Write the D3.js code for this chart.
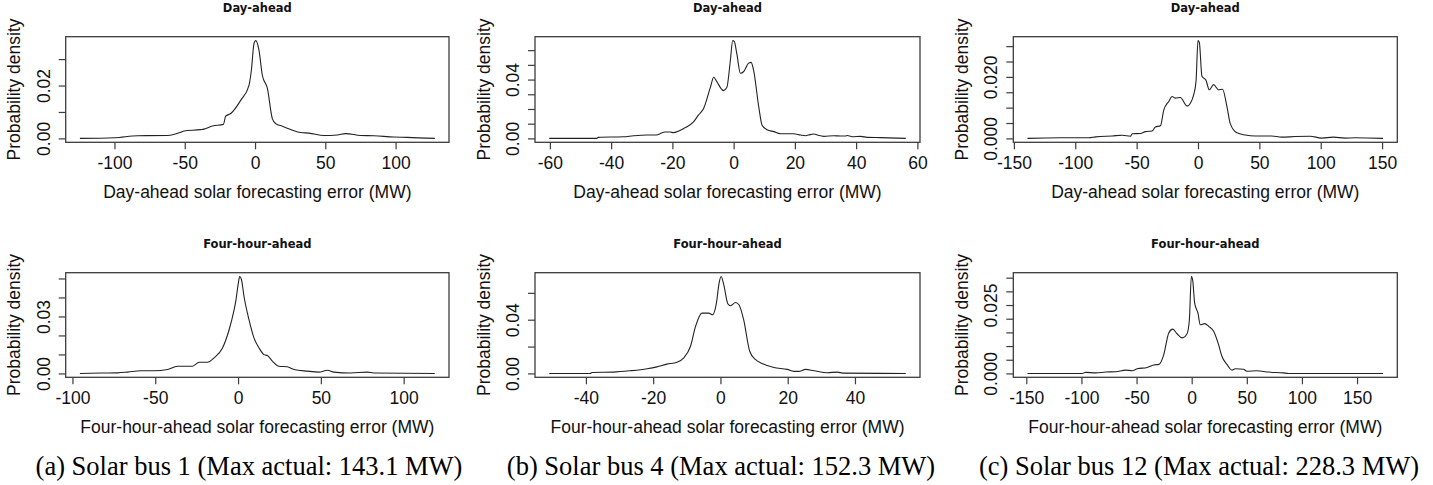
<!DOCTYPE html>
<html>
<head>
<meta charset="utf-8">
<script src="https://cdn.jsdelivr.net/npm/d3@7"></script>
<style>
  html, body { margin: 0; padding: 0; background: #fff; }
  svg { display: block; }
</style>
</head>
<body>
<svg id="chart" width="1433" height="485"></svg>
<script>
// Kernel density estimates of solar forecasting error (MW) for three buses.

// Solar bus 1, day-ahead
const bus1DayAheadError   = [-124.6, -99.8, -83.6, -62.3, -52.8, -50.5, -38.6, -36.3, -30.3, -22.5, -20.9, -17.3, -10.2, -4.3, -2.6, -0.7, 0.5, 2.8, 5.2, 8.8, 12.3, 14.7, 19.4, 25.4, 32.5, 38.4, 49.1, 58.5, 64.5, 75.1, 84.6, 98.8, 108.3, 127.9];
const bus1DayAheadDensity = [0, 0.00025, 0.0010, 0.0011, 0.0023, 0.0028, 0.0033, 0.0035, 0.0047, 0.0053, 0.0084, 0.0094, 0.0144, 0.0201, 0.0258, 0.036, 0.037, 0.0334, 0.0239, 0.0189, 0.0075, 0.0056, 0.0046, 0.0034, 0.0022, 0.002, 0.0011, 0.0013, 0.0018, 0.0011, 0.0010, 0.0005, 0.0004, 0];

// Solar bus 4, day-ahead
const bus4DayAheadError   = [-60.2, -44.7, -44.2, -36, -32.7, -28.4, -25.1, -24, -22.4, -20.7, -19.6, -17.5, -15.8, -13.1, -11.5, -9.8, -7.6, -6.5, -5.5, -3.3, -2.2, -1.1, -0.3, 0.2, 1.1, 2.2, 3.3, 4.9, 5.7, 6.5, 8.2, 9.3, 10.9, 13.1, 15.3, 19.6, 21.8, 23.5, 24.5, 26.2, 27.3, 29.5, 32.7, 34.9, 36.5, 37.1, 38.7, 41.5, 43.6, 48, 56.2];
const bus4DayAheadDensity = [0, 0, 0.0007, 0.0011, 0.0018, 0.0023, 0.0023, 0.0032, 0.0043, 0.0043, 0.0039, 0.0053, 0.0073, 0.0112, 0.0158, 0.0203, 0.0347, 0.0416, 0.0386, 0.0325, 0.0347, 0.0523, 0.0665, 0.066, 0.0569, 0.0443, 0.0455, 0.0512, 0.0517, 0.0466, 0.0215, 0.0089, 0.0059, 0.0046, 0.0032, 0.0032, 0.0023, 0.0018, 0.0023, 0.003, 0.0023, 0.0014, 0.0018, 0.0016, 0.0016, 0.002, 0.0011, 0.0014, 0.0007, 0.0005, 0];

// Solar bus 12, day-ahead
const bus12DayAheadError   = [-138.9, -113.2, -88.8, -83.4, -69.9, -61.7, -55, -53.6, -46.8, -42.8, -37.4, -34.7, -30.6, -27.9, -23.8, -21.1, -18.4, -14.4, -8.9, -6.2, -3.5, -1.6, 0, 1.1, 3.2, 6.5, 9.2, 12.7, 16.8, 20, 23.6, 26.3, 31.7, 38.5, 46.6, 60.1, 68.2, 79.1, 91.3, 100.7, 110.2, 119.7, 127.8, 150.8];
const bus12DayAheadDensity = [0, 0.0002, 0.0002, 0.0005, 0.0008, 0.001, 0.0007, 0.0015, 0.0016, 0.0022, 0.0024, 0.0037, 0.0041, 0.0092, 0.012, 0.0136, 0.0131, 0.0133, 0.0105, 0.0114, 0.0142, 0.0186, 0.0318, 0.0312, 0.0202, 0.0189, 0.0158, 0.0175, 0.0158, 0.016, 0.0103, 0.0048, 0.0018, 0.0011, 0.0008, 0.0008, 0.0004, 0.0006, 0.0007, 0.0001, 0.0004, 0.0001, 0.0002, 0];

// Solar bus 1, four-hour-ahead
const bus1FourHourError   = [-95.5, -82.8, -72.8, -66.7, -58.7, -50.7, -42.6, -36.6, -27.5, -23.5, -18.5, -14.5, -9.4, -5.4, -2.4, -1.4, 0, 1, 2, 3.6, 6.6, 9.6, 12.7, 15.7, 17.7, 20.7, 24.7, 29.7, 33.8, 41.8, 48.8, 53.9, 57.9, 67.9, 78, 82, 118.8];
const bus1FourHourDensity = [0, 0.0002, 0.0003, 0.0007, 0.0014, 0.0014, 0.0021, 0.0038, 0.0038, 0.0059, 0.0059, 0.0082, 0.0134, 0.023, 0.0335, 0.0379, 0.0466, 0.051, 0.0496, 0.0405, 0.0283, 0.0187, 0.0134, 0.0099, 0.0094, 0.0065, 0.0038, 0.0035, 0.0021, 0.0012, 0.0007, 0.0017, 0.0007, 0.0002, 0.0007, 0.0002, 0];

// Solar bus 4, four-hour-ahead
const bus4FourHourError   = [-50.9, -38.7, -38.2, -31.8, -26.8, -21.8, -18.9, -15.9, -12.9, -10.9, -8.9, -7.4, -5.5, -3.5, -2.3, -1.2, -0.4, 0.2, 1, 2.2, 3, 4.5, 5.5, 6.9, 8.7, 10.4, 12.4, 15.9, 19.9, 21.8, 23.3, 25.3, 27.8, 31.8, 34.7, 36.7, 55.1];
const bus4FourHourDensity = [0, 0, 0.0007, 0.001, 0.002, 0.0035, 0.0049, 0.0069, 0.0084, 0.0116, 0.0202, 0.035, 0.0449, 0.0449, 0.0437, 0.0523, 0.0672, 0.0721, 0.0659, 0.0519, 0.0504, 0.0528, 0.0511, 0.04, 0.0165, 0.0104, 0.0074, 0.0044, 0.003, 0.0015, 0.0015, 0.003, 0.002, 0.0005, 0.001, 0.0002, 0];

// Solar bus 12, four-hour-ahead
const bus12FourHourError   = [-148.9, -99.2, -96.2, -87.1, -78.1, -69, -60, -54, -49.4, -40.4, -34.4, -29.8, -25.3, -20.8, -17.2, -13.3, -8.7, -4.2, -2.1, -0.3, 0.9, 2.7, 5.7, 7.8, 11.8, 15.4, 19.9, 24.4, 27.4, 32, 36.5, 39.5, 47, 50, 59.1, 69.6, 83.2, 87.7, 173.6];
const bus12FourHourDensity = [0, 0, 0.0004, 0.0002, 0.0005, 0.0006, 0.0012, 0.001, 0.0017, 0.0022, 0.0031, 0.0033, 0.0069, 0.0148, 0.0162, 0.0145, 0.013, 0.0145, 0.0196, 0.0354, 0.0341, 0.0257, 0.022, 0.0178, 0.0182, 0.0172, 0.0154, 0.0105, 0.0063, 0.0033, 0.0012, 0.0017, 0.0015, 0.0008, 0.001, 0.0005, 0.0002, 0, 0];

// Axis ticks (x) and density ticks with their printed labels (y)
const bus1DayAheadXTicks  = [-100, -50, 0, 50, 100];
const bus4DayAheadXTicks  = [-60, -40, -20, 0, 20, 40, 60];
const bus12DayAheadXTicks = [-150, -100, -50, 0, 50, 100, 150];
const bus1FourHourXTicks  = [-100, -50, 0, 50, 100];
const bus4FourHourXTicks  = [-40, -20, 0, 20, 40];
const bus12FourHourXTicks = [-150, -100, -50, 0, 50, 100, 150];

const bus1DayAheadYTicks   = [0, 0.01, 0.02, 0.03];
const bus1DayAheadYLabels  = ["0.00", "", "0.02", ""];
const bus4DayAheadYTicks   = [0, 0.01, 0.02, 0.03, 0.04, 0.05, 0.06];
const bus4DayAheadYLabels  = ["0.00", "", "", "", "0.04", "", ""];
const bus12DayAheadYTicks  = [0, 0.005, 0.01, 0.015, 0.02, 0.025, 0.03];
const bus12DayAheadYLabels = ["0.000", "", "", "", "0.020", "", ""];
const bus1FourHourYTicks   = [0, 0.01, 0.02, 0.03, 0.04, 0.05];
const bus1FourHourYLabels  = ["0.00", "", "", "0.03", "", ""];
const bus4FourHourYTicks   = [0, 0.02, 0.04, 0.06];
const bus4FourHourYLabels  = ["0.00", "", "0.04", ""];
const bus12FourHourYTicks  = [0, 0.005, 0.01, 0.015, 0.02, 0.025, 0.03, 0.035];
const bus12FourHourYLabels = ["0.000", "", "", "", "", "0.025", "", ""];

// Text
const horizonTitles = ["Day-ahead", "Four-hour-ahead"];
const xAxisTitles = ["Day-ahead solar forecasting error (MW)", "Four-hour-ahead solar forecasting error (MW)"];
const yAxisTitle = "Probability density";
const busCaptions = [
  "(a) Solar bus 1 (Max actual: 143.1 MW)",
  "(b) Solar bus 4 (Max actual: 152.3 MW)",
  "(c) Solar bus 12 (Max actual: 228.3 MW)"
];

// ---------------------------------------------------------------------------
const panels = [
  { row: 0, col: 0, x: bus1DayAheadError,  y: bus1DayAheadDensity,  xt: bus1DayAheadXTicks,  yt: bus1DayAheadYTicks,  yl: bus1DayAheadYLabels },
  { row: 0, col: 1, x: bus4DayAheadError,  y: bus4DayAheadDensity,  xt: bus4DayAheadXTicks,  yt: bus4DayAheadYTicks,  yl: bus4DayAheadYLabels },
  { row: 0, col: 2, x: bus12DayAheadError, y: bus12DayAheadDensity, xt: bus12DayAheadXTicks, yt: bus12DayAheadYTicks, yl: bus12DayAheadYLabels },
  { row: 1, col: 0, x: bus1FourHourError,  y: bus1FourHourDensity,  xt: bus1FourHourXTicks,  yt: bus1FourHourYTicks,  yl: bus1FourHourYLabels },
  { row: 1, col: 1, x: bus4FourHourError,  y: bus4FourHourDensity,  xt: bus4FourHourXTicks,  yt: bus4FourHourYTicks,  yl: bus4FourHourYLabels },
  { row: 1, col: 2, x: bus12FourHourError, y: bus12FourHourDensity, xt: bus12FourHourXTicks, yt: bus12FourHourYTicks, yl: bus12FourHourYLabels }
];

const colLeft = [65.7, 535, 1013.3];
const colWidth = [383.3, 385, 384];
const rowTop = [36.7, 272.7];
const rowHeight = [105.6, 104.6];
const captionCenter = [249, 721, 1199];

const sans = "'Liberation Sans', Arial, Helvetica, sans-serif";
const boldTitle = "'DejaVu Sans', Verdana, sans-serif";
const serif = "'Liberation Serif', 'Times New Roman', serif";
const ink = "#111";
const frame = "#3c3c3c";
const tickLen = 7;

const svg = d3.select("#chart");

// R-style axis range: data range padded by 4% on each side
function padded(lo, hi) {
  const d = (hi - lo) * 0.04;
  return [lo - d, hi + d];
}

panels.forEach(p => {
  const left = colLeft[p.col], top = rowTop[p.row];
  const w = colWidth[p.col], h = rowHeight[p.row];
  const right = left + w, bottom = top + h;

  const x = d3.scaleLinear().domain(padded(d3.min(p.x), d3.max(p.x))).range([left, right]);
  const y = d3.scaleLinear().domain(padded(0, d3.max(p.y))).range([bottom, top]);

  const g = svg.append("g");

  // density curve
  const pts = p.x.map((v, i) => [v, p.y[i]]);
  g.append("path")
    .datum(pts)
    .attr("fill", "none")
    .attr("stroke", "#222")
    .attr("stroke-width", 1.1)
    .attr("stroke-linejoin", "round")
    .attr("d", d3.line().x(d => x(d[0])).y(d => y(d[1])).curve(d3.curveMonotoneX));

  // plot frame
  g.append("rect")
    .attr("x", left).attr("y", top).attr("width", w).attr("height", h)
    .attr("fill", "none").attr("stroke", frame).attr("stroke-width", 1.3);

  // x axis
  const xAxis = d3.axisBottom(x).tickValues(p.xt).tickSize(tickLen).tickSizeOuter(0).tickFormat(d3.format("d"));
  const gx = g.append("g").attr("transform", `translate(0,${bottom})`).call(xAxis);
  gx.select(".domain").remove();
  gx.selectAll(".tick line").attr("stroke", frame).attr("stroke-width", 1.2);
  gx.selectAll(".tick text")
    .attr("y", 27).attr("dy", null)
    .attr("fill", ink)
    .style("font-family", sans).style("font-size", "17.5px")
    .text(d => d < 0 ? "-" + Math.abs(d) : String(d));

  // y axis
  const yAxis = d3.axisLeft(y).tickValues(p.yt).tickSize(tickLen).tickSizeOuter(0)
    .tickFormat((d, i) => p.yl[i]);
  const gy = g.append("g").attr("transform", `translate(${left},0)`).call(yAxis);
  gy.select(".domain").remove();
  gy.selectAll(".tick line").attr("stroke", frame).attr("stroke-width", 1.2);
  gy.selectAll(".tick text")
    .attr("x", null).attr("dy", null)
    .attr("transform", "translate(-16,0) rotate(-90)")
    .attr("text-anchor", "middle")
    .attr("fill", ink)
    .style("font-family", sans).style("font-size", "17.5px");

  // panel title
  g.append("text")
    .attr("x", left + w / 2).attr("y", top - 24.4)
    .attr("text-anchor", "middle")
    .attr("fill", ink)
    .style("font-family", boldTitle).style("font-weight", "bold").style("font-size", "11.5px")
    .text(horizonTitles[p.row]);

  // x axis title
  g.append("text")
    .attr("x", left + w / 2).attr("y", bottom + 55.5)
    .attr("text-anchor", "middle")
    .attr("fill", ink)
    .style("font-family", sans).style("font-size", "17.5px")
    .text(xAxisTitles[p.row]);

  // y axis title
  g.append("text")
    .attr("transform", `translate(${left - 45.5},${top + h / 2}) rotate(-90)`)
    .attr("text-anchor", "middle")
    .attr("fill", ink)
    .style("font-family", sans).style("font-size", "17.5px")
    .text(yAxisTitle);
});

// sub-figure captions
svg.selectAll("text.caption")
  .data(busCaptions)
  .enter().append("text")
  .attr("class", "caption")
  .attr("x", (d, i) => captionCenter[i])
  .attr("y", 475)
  .attr("text-anchor", "middle")
  .attr("fill", "#000")
  .style("font-family", serif).style("font-size", "26.5px")
  .text(d => d);
</script>
</body>
</html>
